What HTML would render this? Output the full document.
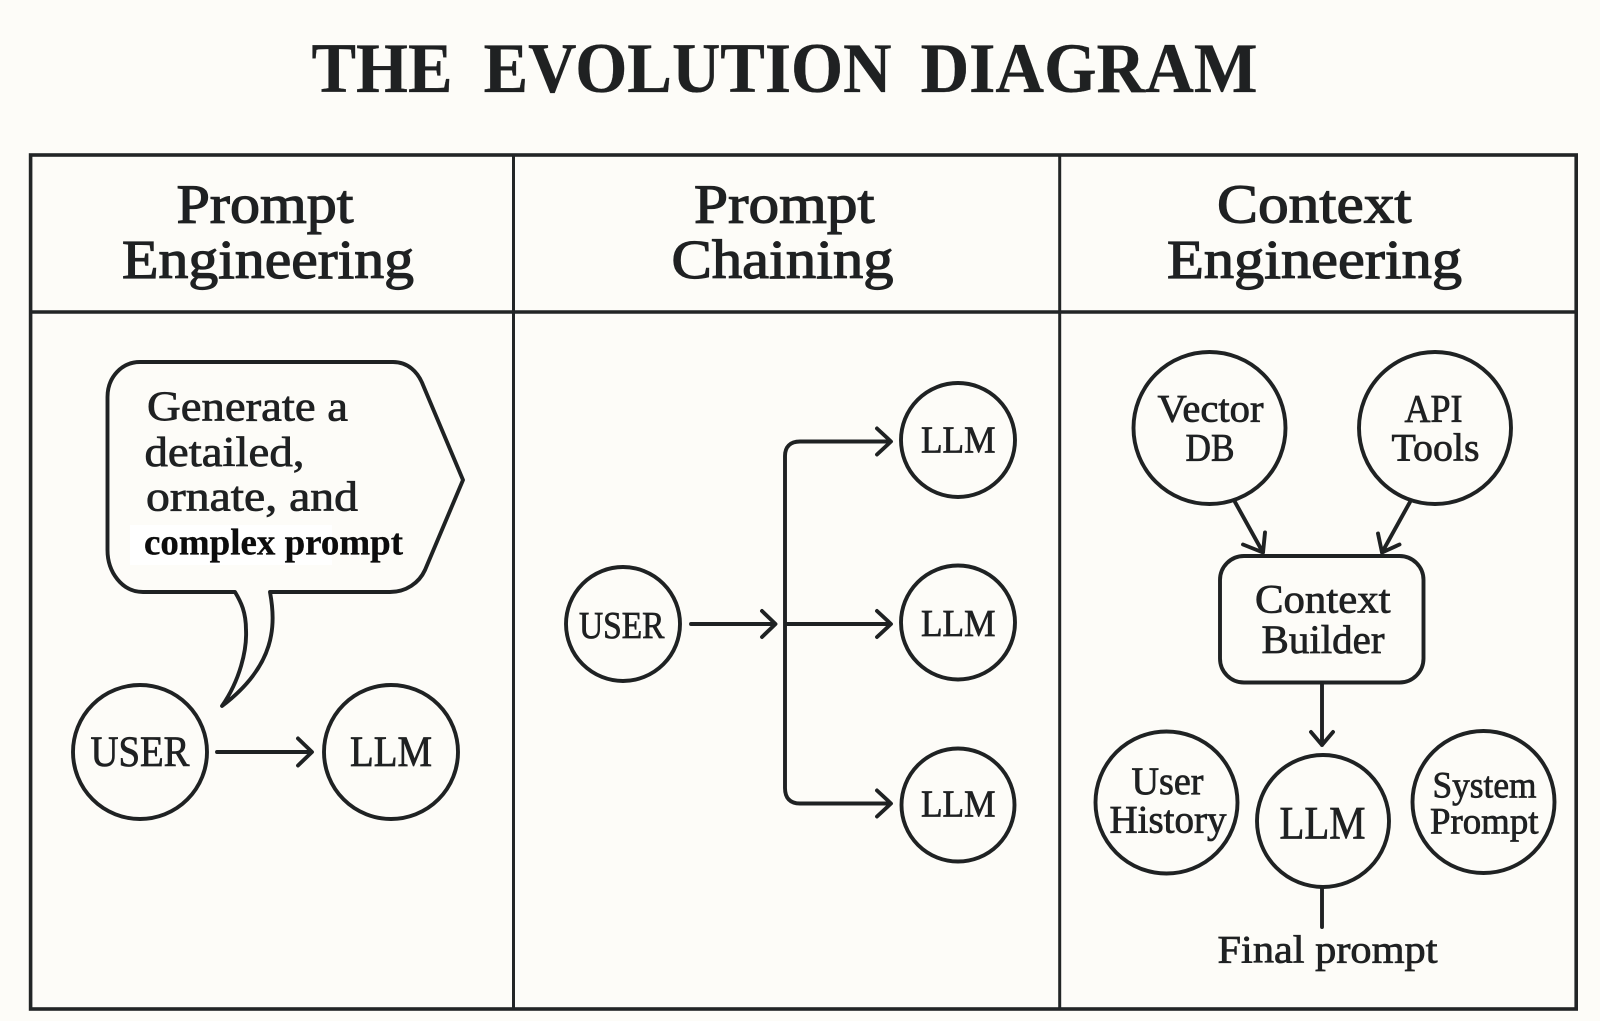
<!DOCTYPE html>
<html><head><meta charset="utf-8"><style>
html,body{margin:0;padding:0;width:1600px;height:1021px;background:#fdfcf8;overflow:hidden}
svg{display:block}
text{font-family:"Liberation Serif",serif;fill:#1f2122;stroke:#1f2122;stroke-width:.75}
.s{fill:none;stroke:#1f2223;stroke-width:3.9;stroke-linecap:round;stroke-linejoin:round}
.f{stroke:#222526;stroke-width:3.6;fill:none}
.t{font-weight:700;font-size:71px;stroke-width:.3}
.h{font-size:55px;stroke-width:1.2}
</style></head><body>
<svg width="1600" height="1021" viewBox="0 0 1600 1021" xmlns="http://www.w3.org/2000/svg">
<rect width="1600" height="1021" fill="#fdfcf8"/>
<text class="t" x="311.5" y="92" textLength="141" lengthAdjust="spacingAndGlyphs">THE</text>
<text class="t" x="483.5" y="92" textLength="408" lengthAdjust="spacingAndGlyphs">EVOLUTION</text>
<text class="t" x="920.5" y="92" textLength="337" lengthAdjust="spacingAndGlyphs">DIAGRAM</text>

<rect class="f" x="30.6" y="155" width="1545.6" height="854"/>
<path class="f" d="M30.6 312H1576"/>
<path class="f" style="stroke-width:3" d="M513.5 155V1009M1059.7 155V1009"/>

<text class="h" x="176.5" y="222.5" textLength="177" lengthAdjust="spacingAndGlyphs">Prompt</text>
<text class="h" x="122" y="278" textLength="292" lengthAdjust="spacingAndGlyphs">Engineering</text>
<text class="h" x="694" y="222.5" textLength="180.5" lengthAdjust="spacingAndGlyphs">Prompt</text>
<text class="h" x="671.5" y="278" textLength="222" lengthAdjust="spacingAndGlyphs">Chaining</text>
<text class="h" x="1217" y="222.5" textLength="194.5" lengthAdjust="spacingAndGlyphs">Context</text>
<text class="h" x="1167" y="278" textLength="295" lengthAdjust="spacingAndGlyphs">Engineering</text>

<!-- bubble -->
<path class="s" d="M140 362H393C408 362 418 372 423 385L463 480L425 570C419 583 406 592 390 592H270C276 625 276 665 222 706C240 680 247 650 246 630C246 612 241 602 235 592H143C122 592 107.5 572 107.5 550V397C107.5 377 122 362 140 362Z"/>
<rect x="130" y="525" width="202" height="40" fill="#ffffff"/>
<text x="147" y="420.5" font-size="42" textLength="201" lengthAdjust="spacingAndGlyphs">Generate a</text>
<text x="144.5" y="466" font-size="42" textLength="160" lengthAdjust="spacingAndGlyphs">detailed,</text>
<text x="146" y="510.5" font-size="42" textLength="212" lengthAdjust="spacingAndGlyphs">ornate, and</text>
<text x="144" y="554.5" font-size="37" font-weight="700" style="fill:#0c0c0c;stroke:#0c0c0c;stroke-width:.3" textLength="259" lengthAdjust="spacingAndGlyphs">complex prompt</text>

<!-- col 1 nodes -->
<circle class="s" cx="140" cy="752" r="67"/>
<circle class="s" cx="391" cy="752" r="67"/>
<text x="90.5" y="766" font-size="43" textLength="99" lengthAdjust="spacingAndGlyphs">USER</text>
<text x="350" y="766" font-size="43" textLength="82" lengthAdjust="spacingAndGlyphs">LLM</text>
<path class="s" d="M217 752H311M298 738.5L312 752L298 765.5"/>

<!-- col 2 -->
<circle class="s" cx="623" cy="624" r="57"/>
<text x="579" y="638" font-size="38" textLength="85.5" lengthAdjust="spacingAndGlyphs">USER</text>
<path class="s" d="M691 624H775M762 611L775.5 624L762 637"/>
<path class="s" d="M890 441.5H800C790 441.5 785 447 785 456V788C785 798 790 803.5 800 803.5H890M785 624H890"/>
<path class="s" d="M877 428.5L891 441.5L877 454.5M877 611L891 624L877 637M877 790.5L891 803.5L877 816.5"/>
<circle class="s" cx="958" cy="440" r="57"/>
<circle class="s" cx="958" cy="622.5" r="57"/>
<circle class="s" cx="958" cy="805" r="56.5"/>
<text x="921" y="452.5" font-size="38" textLength="74.5" lengthAdjust="spacingAndGlyphs">LLM</text>
<text x="921" y="636" font-size="38" textLength="74.5" lengthAdjust="spacingAndGlyphs">LLM</text>
<text x="921" y="816.5" font-size="38" textLength="74.5" lengthAdjust="spacingAndGlyphs">LLM</text>

<!-- col 3 -->
<circle class="s" cx="1209.5" cy="428" r="76"/>
<circle class="s" cx="1435" cy="428" r="76"/>
<text x="1157.5" y="421.5" font-size="39" textLength="106" lengthAdjust="spacingAndGlyphs">Vector</text>
<text x="1185.5" y="460.5" font-size="39" textLength="49" lengthAdjust="spacingAndGlyphs">DB</text>
<text x="1404.5" y="421.5" font-size="39" textLength="58" lengthAdjust="spacingAndGlyphs">API</text>
<text x="1391.5" y="460.5" font-size="39" textLength="88" lengthAdjust="spacingAndGlyphs">Tools</text>
<path class="s" d="M1235 502L1263 552.5M1243 544.5L1263 552.5L1265 532.5"/>
<path class="s" d="M1410 502L1382 552.5M1378 533.5L1382 552.5L1399.5 544.5"/>
<rect class="s" x="1220" y="556" width="203.5" height="126.5" rx="24"/>
<text x="1255" y="612.5" font-size="40" textLength="135.5" lengthAdjust="spacingAndGlyphs">Context</text>
<text x="1261.5" y="653" font-size="40" textLength="123" lengthAdjust="spacingAndGlyphs">Builder</text>
<path class="s" d="M1322 683V745M1311 732L1322 745L1333 732"/>
<circle class="s" cx="1323" cy="821" r="66"/>
<text x="1279.5" y="838.5" font-size="47" textLength="86" lengthAdjust="spacingAndGlyphs">LLM</text>
<circle class="s" cx="1166.5" cy="802.5" r="71"/>
<text x="1131.5" y="794" font-size="39" textLength="72" lengthAdjust="spacingAndGlyphs">User</text>
<text x="1109.5" y="832.5" font-size="39" textLength="117" lengthAdjust="spacingAndGlyphs">History</text>
<circle class="s" cx="1483.5" cy="802" r="71"/>
<text x="1432.5" y="797.5" font-size="37" textLength="104" lengthAdjust="spacingAndGlyphs">System</text>
<text x="1430" y="833.5" font-size="37" textLength="108.5" lengthAdjust="spacingAndGlyphs">Prompt</text>
<path class="s" d="M1322 888V927"/>
<text x="1217.5" y="962.5" font-size="39" textLength="220" lengthAdjust="spacingAndGlyphs">Final prompt</text>
</svg>
</body></html>
